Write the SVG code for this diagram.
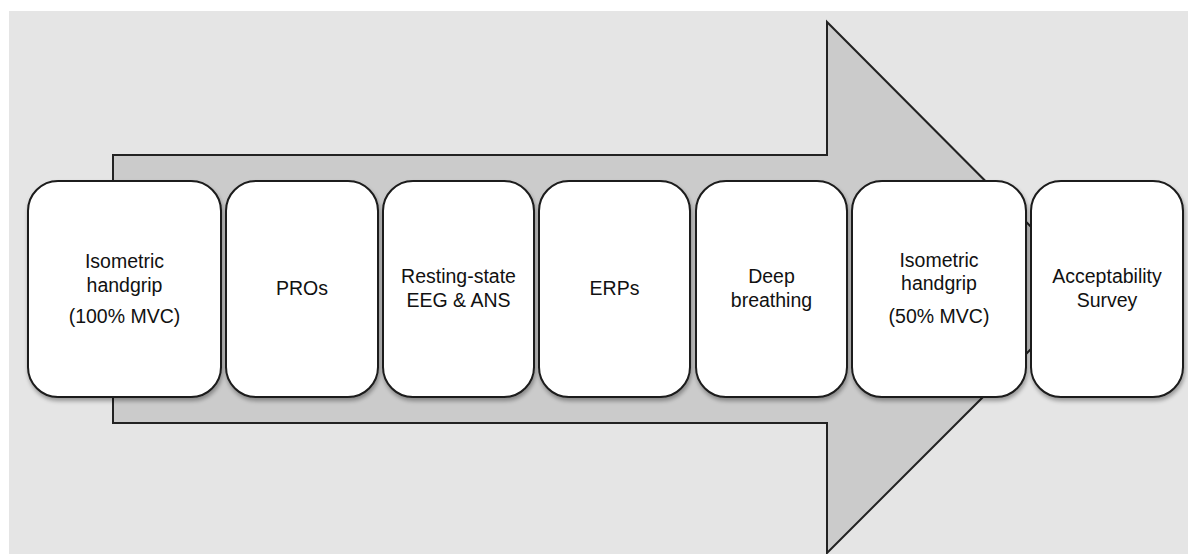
<svg xmlns="http://www.w3.org/2000/svg" width="1188" height="554" viewBox="0 0 1188 554">
  <defs>
    <filter id="shadow" x="-10%" y="-10%" width="120%" height="125%">
      <feGaussianBlur in="SourceAlpha" stdDeviation="2"/>
      <feOffset dx="1" dy="3" result="blur"/>
      <feComponentTransfer><feFuncA type="linear" slope="0.35"/></feComponentTransfer>
      <feMerge><feMergeNode/><feMergeNode in="SourceGraphic"/></feMerge>
    </filter>
  </defs>
  <style>
    .step { fill: #ffffff; stroke: #1a1a1a; stroke-width: 2; filter: url(#shadow); }
    .lbl { font-family: "Liberation Sans", Arial, sans-serif; font-size: 19.5px; fill: #111111; text-anchor: middle; }
    .flow { fill: #cbcbcb; stroke: #222222; stroke-width: 2; stroke-linejoin: miter; }
  </style>

  <!-- panel background -->
  <rect x="0" y="0" width="1188" height="554" fill="#ffffff"/>
  <rect x="9" y="11" width="1179" height="543" fill="#e5e5e5"/>

  <!-- timeline arrow behind the steps -->
  <g id="connectors">
    <polygon class="flow" points="113,155 827,155 827,22 1092,288 827,553 827,423 113,423"/>
  </g>

  <g id="step1">
    <rect class="step" x="28" y="181" width="193" height="216" rx="30" ry="30"/>
    <text class="lbl" x="124.5" y="268">Isometric</text>
    <text class="lbl" x="124.5" y="292">handgrip</text>
    <text class="lbl" x="124.5" y="323">(100% MVC)</text>
  </g>

  <g id="step2">
    <rect class="step" x="226" y="181" width="152" height="216" rx="30" ry="30"/>
    <text class="lbl" x="302" y="295">PROs</text>
  </g>

  <g id="step3">
    <rect class="step" x="383" y="181" width="151" height="216" rx="30" ry="30"/>
    <text class="lbl" x="458.5" y="283">Resting-state</text>
    <text class="lbl" x="458.5" y="307">EEG &amp; ANS</text>
  </g>

  <g id="step4">
    <rect class="step" x="539" y="181" width="151" height="216" rx="30" ry="30"/>
    <text class="lbl" x="614.5" y="295">ERPs</text>
  </g>

  <g id="step5">
    <rect class="step" x="696" y="181" width="151" height="216" rx="30" ry="30"/>
    <text class="lbl" x="771.5" y="283">Deep</text>
    <text class="lbl" x="771.5" y="307">breathing</text>
  </g>

  <g id="step6">
    <rect class="step" x="852" y="181" width="174" height="216" rx="30" ry="30"/>
    <text class="lbl" x="939" y="267">Isometric</text>
    <text class="lbl" x="939" y="290">handgrip</text>
    <text class="lbl" x="939" y="323">(50% MVC)</text>
  </g>

  <g id="step7">
    <rect class="step" x="1031" y="181" width="152" height="216" rx="30" ry="30"/>
    <text class="lbl" x="1107" y="283">Acceptability</text>
    <text class="lbl" x="1107" y="307">Survey</text>
  </g>
</svg>
